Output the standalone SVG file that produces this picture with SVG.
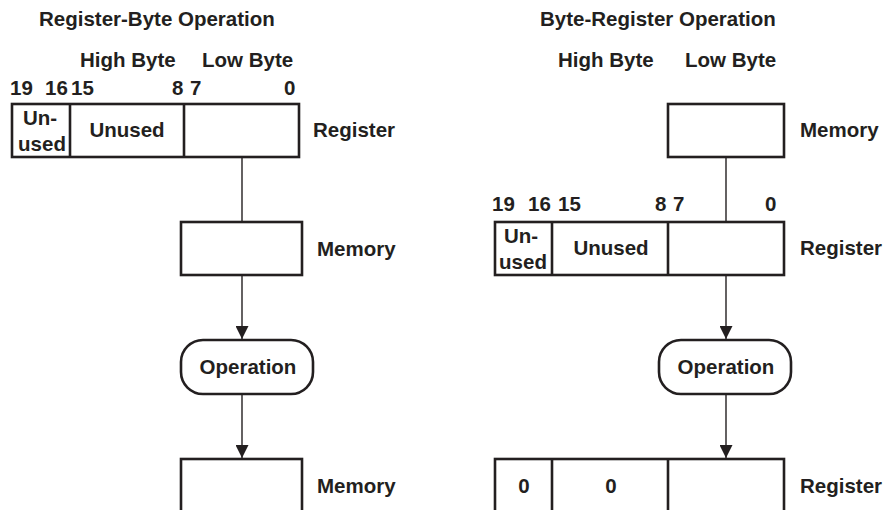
<svg xmlns="http://www.w3.org/2000/svg" width="886" height="510" viewBox="0 0 886 510">
<defs>
<style>
text{font-family:"Liberation Sans",Arial,Helvetica,sans-serif;font-weight:bold;font-size:20.5px;fill:#231f20}
.m{text-anchor:middle}
.box{fill:#fff;stroke:#231f20;stroke-width:2.6}
.div{stroke:#231f20;stroke-width:2.6}
.con{stroke:#231f20;stroke-width:1.4;fill:none}
</style>
<marker id="ah" markerUnits="userSpaceOnUse" markerWidth="14" markerHeight="13" refX="13" refY="6.5" orient="auto">
<path d="M0,0 L13,6.5 L0,13 Z" fill="#231f20"/>
</marker>
</defs>
<rect width="886" height="510" fill="#fff"/>

<g id="left-labels">
<text x="39" y="26">Register-Byte Operation</text>
<text x="80" y="67">High Byte</text>
<text x="202" y="67">Low Byte</text>
<text x="10" y="95">19</text>
<text x="45" y="95">16</text>
<text x="71" y="95">15</text>
<text x="172" y="95">8</text>
<text x="190" y="95">7</text>
<text x="284" y="95">0</text>
</g>

<g id="left-register">
<rect class="box" x="12" y="104" width="287" height="53"/>
<line class="div" x1="70" y1="104" x2="70" y2="157"/>
<line class="div" x1="184" y1="104" x2="184" y2="157"/>
<text class="m" x="40" y="125">Un-</text>
<text class="m" x="42" y="151">used</text>
<text class="m" x="127" y="137">Unused</text>
<text x="313" y="137">Register</text>
</g>

<g id="left-memory">
<rect class="box" x="181" y="222" width="121" height="53"/>
<text x="317" y="256">Memory</text>
</g>

<g id="left-operation">
<rect class="box" x="181" y="340" width="132" height="54" rx="22" ry="22"/>
<text class="m" x="248" y="374">Operation</text>
</g>

<g id="left-result">
<rect class="box" x="181" y="459" width="121" height="60"/>
<text x="317" y="493">Memory</text>
</g>

<g id="right-labels">
<text x="540" y="26">Byte-Register Operation</text>
<text x="558" y="67">High Byte</text>
<text x="685" y="67">Low Byte</text>
<text x="492" y="211">19</text>
<text x="528" y="211">16</text>
<text x="558" y="211">15</text>
<text x="655" y="211">8</text>
<text x="673" y="211">7</text>
<text x="765" y="211">0</text>
</g>

<g id="right-memory">
<rect class="box" x="668" y="104" width="116" height="53"/>
<text x="800" y="137">Memory</text>
</g>

<g id="right-register">
<rect class="box" x="495" y="222" width="289" height="53"/>
<line class="div" x1="552" y1="222" x2="552" y2="275"/>
<line class="div" x1="668" y1="222" x2="668" y2="275"/>
<text class="m" x="521" y="243">Un-</text>
<text class="m" x="523" y="269">used</text>
<text class="m" x="611" y="255">Unused</text>
<text x="800" y="255">Register</text>
</g>

<g id="right-operation">
<rect class="box" x="659" y="340" width="132" height="54" rx="22" ry="22"/>
<text class="m" x="726" y="374">Operation</text>
</g>

<g id="right-result">
<rect class="box" x="495" y="459" width="289" height="60"/>
<line class="div" x1="552" y1="459" x2="552" y2="519"/>
<line class="div" x1="668" y1="459" x2="668" y2="519"/>
<text class="m" x="524" y="493">0</text>
<text class="m" x="611" y="493">0</text>
<text x="800" y="493">Register</text>
</g>

<g id="connectors">
<line class="con" x1="242" y1="158" x2="242" y2="221"/>
<line class="con" x1="242" y1="276" x2="242" y2="339" marker-end="url(#ah)"/>
<line class="con" x1="242" y1="395" x2="242" y2="458" marker-end="url(#ah)"/>
<line class="con" x1="726" y1="158" x2="726" y2="221"/>
<line class="con" x1="726" y1="276" x2="726" y2="339" marker-end="url(#ah)"/>
<line class="con" x1="726" y1="395" x2="726" y2="458" marker-end="url(#ah)"/>
</g>
</svg>
